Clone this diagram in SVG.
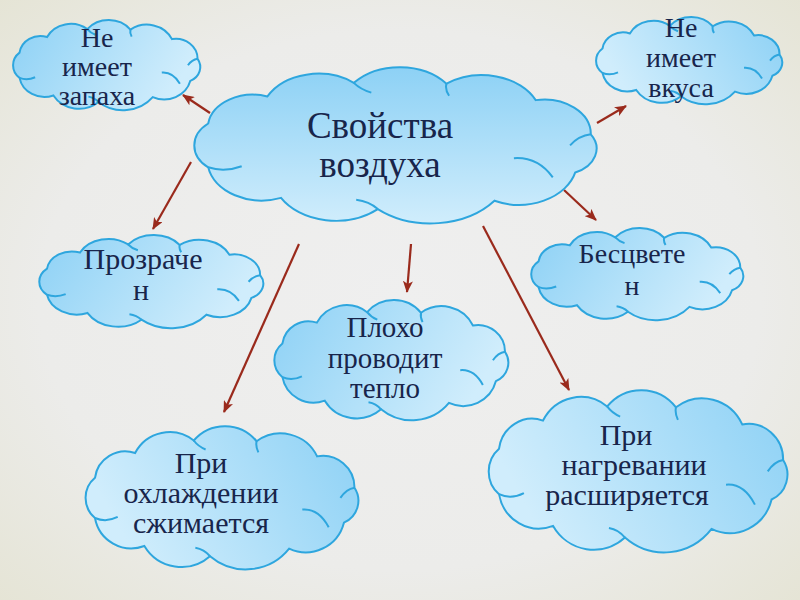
<svg xmlns="http://www.w3.org/2000/svg" xmlns:xlink="http://www.w3.org/1999/xlink" width="800" height="600" viewBox="0 0 800 600">
<style>
.t{font-family:'Liberation Serif','DejaVu Serif',serif;fill:#18254b;text-anchor:middle}
.conn line{stroke:#9a2a1c;stroke-width:2.2;fill:none;marker-end:url(#ah)}
</style>
<defs>
<radialGradient id="bg" cx="0.5" cy="0.5" r="0.75">
<stop offset="0" stop-color="#efefef"/>
<stop offset="0.6" stop-color="#ececea"/>
<stop offset="1" stop-color="#e4e3d2"/>
</radialGradient>
<linearGradient id="gV" x1="0" y1="0" x2="0" y2="1">
<stop offset="0" stop-color="#8dd1f5"/>
<stop offset="1" stop-color="#d0edfc"/>
</linearGradient>
<linearGradient id="gL" x1="0" y1="0" x2="1" y2="0.3">
<stop offset="0" stop-color="#8dd1f5"/>
<stop offset="1" stop-color="#d0edfc"/>
</linearGradient>
<linearGradient id="gR" x1="0" y1="0.3" x2="1" y2="0">
<stop offset="0" stop-color="#d0edfc"/>
<stop offset="1" stop-color="#8dd1f5"/>
</linearGradient>
<marker id="ah" viewBox="0 0 12 10" markerWidth="12" markerHeight="10" refX="11" refY="5" orient="auto" markerUnits="userSpaceOnUse">
<path d="M0,0 L12,5 L0,10 L3,5 Z" fill="#9a2a1c"/>
</marker>
<symbol id="cloud" viewBox="6 1 187 97.5" preserveAspectRatio="none" overflow="visible">
<path stroke="#2ea6de" stroke-width="2" vector-effect="non-scaling-stroke" d="M13.5,63.7 A17.8,17.8 0 0 1 13.5,36.3 A20.9,20.9 0 0 1 40.9,19.4 A26.6,26.6 0 0 1 80.9,10.9 A27.9,27.9 0 0 1 123.8,11.4 A27.7,27.7 0 0 1 165.1,21.7 A21.6,21.6 0 0 1 190.6,43.1 A16.2,16.2 0 0 1 183.4,66.9 A26.9,26.9 0 0 1 146,84.6 A37.9,37.9 0 0 1 92,89.8 A29.5,29.5 0 0 1 47.2,82.8 A25.2,25.2 0 0 1 13.5,63.7 Z"/>
<path fill="none" stroke="#2ea6de" stroke-width="2" vector-effect="non-scaling-stroke" d="M13.5,63.7 Q21,67 29,63 M80.9,10.9 Q84,15 89,17 M123.8,11.4 Q123,15 125,19 M190.6,43.1 Q185,44 181,50 M155,58 Q166,57 173,70 M92,89.8 Q88,85 82,84"/>
</symbol>
</defs>
<rect width="800" height="600" fill="url(#bg)"/>
<g id="connectors" class="conn">
<line x1="210" y1="113" x2="183" y2="95"/>
<line x1="597" y1="123" x2="626" y2="106"/>
<line x1="191" y1="162" x2="153" y2="229"/>
<line x1="564" y1="190" x2="596" y2="220"/>
<line x1="299" y1="244" x2="224" y2="412"/>
<line x1="411" y1="244" x2="407" y2="292"/>
<line x1="483" y1="226" x2="569" y2="390"/>
</g>
<g id="central">
<use href="#cloud" x="192" y="67" width="404" height="156" fill="url(#gV)"/>
<text class="t" font-size="37"><tspan x="380" y="138">Свойства</tspan><tspan x="380" y="177">воздуха</tspan></text>
</g>
<g id="smell">
<use href="#cloud" x="12" y="20" width="188" height="90" fill="url(#gL)"/>
<text class="t" font-size="28"><tspan x="97" y="47">Не</tspan><tspan x="97" y="76">имеет</tspan><tspan x="97" y="105">запаха</tspan></text>
</g>
<g id="taste">
<use href="#cloud" x="595" y="17" width="187" height="87" fill="url(#gR)"/>
<text class="t" font-size="28"><tspan x="681" y="37">Не</tspan><tspan x="681" y="67">имеет</tspan><tspan x="681" y="97">вкуса</tspan></text>
</g>
<g id="transparent">
<use href="#cloud" x="38" y="235" width="225" height="93" fill="url(#gL)"/>
<text class="t" font-size="30"><tspan x="143" y="269">Прозраче</tspan><tspan x="141" y="300">н</tspan></text>
</g>
<g id="colorless">
<use href="#cloud" x="530" y="228" width="213" height="92" fill="url(#gL)"/>
<text class="t" font-size="28"><tspan x="632" y="263">Бесцвете</tspan><tspan x="632" y="295">н</tspan></text>
</g>
<g id="heat">
<use href="#cloud" x="273" y="300" width="235" height="120" fill="url(#gL)"/>
<text class="t" font-size="29"><tspan x="385" y="337">Плохо</tspan><tspan x="385" y="368">проводит</tspan><tspan x="385" y="398">тепло</tspan></text>
</g>
<g id="cooling">
<use href="#cloud" x="84" y="426" width="274" height="143" fill="url(#gR)"/>
<text class="t" font-size="30"><tspan x="201" y="473">При</tspan><tspan x="201" y="503">охлаждении</tspan><tspan x="201" y="533">сжимается</tspan></text>
</g>
<g id="heating">
<use href="#cloud" x="487" y="390" width="300" height="162" fill="url(#gR)"/>
<text class="t" font-size="30"><tspan x="626" y="445">При</tspan><tspan x="634" y="475">нагревании</tspan><tspan x="627" y="505">расширяется</tspan></text>
</g>
</svg>
